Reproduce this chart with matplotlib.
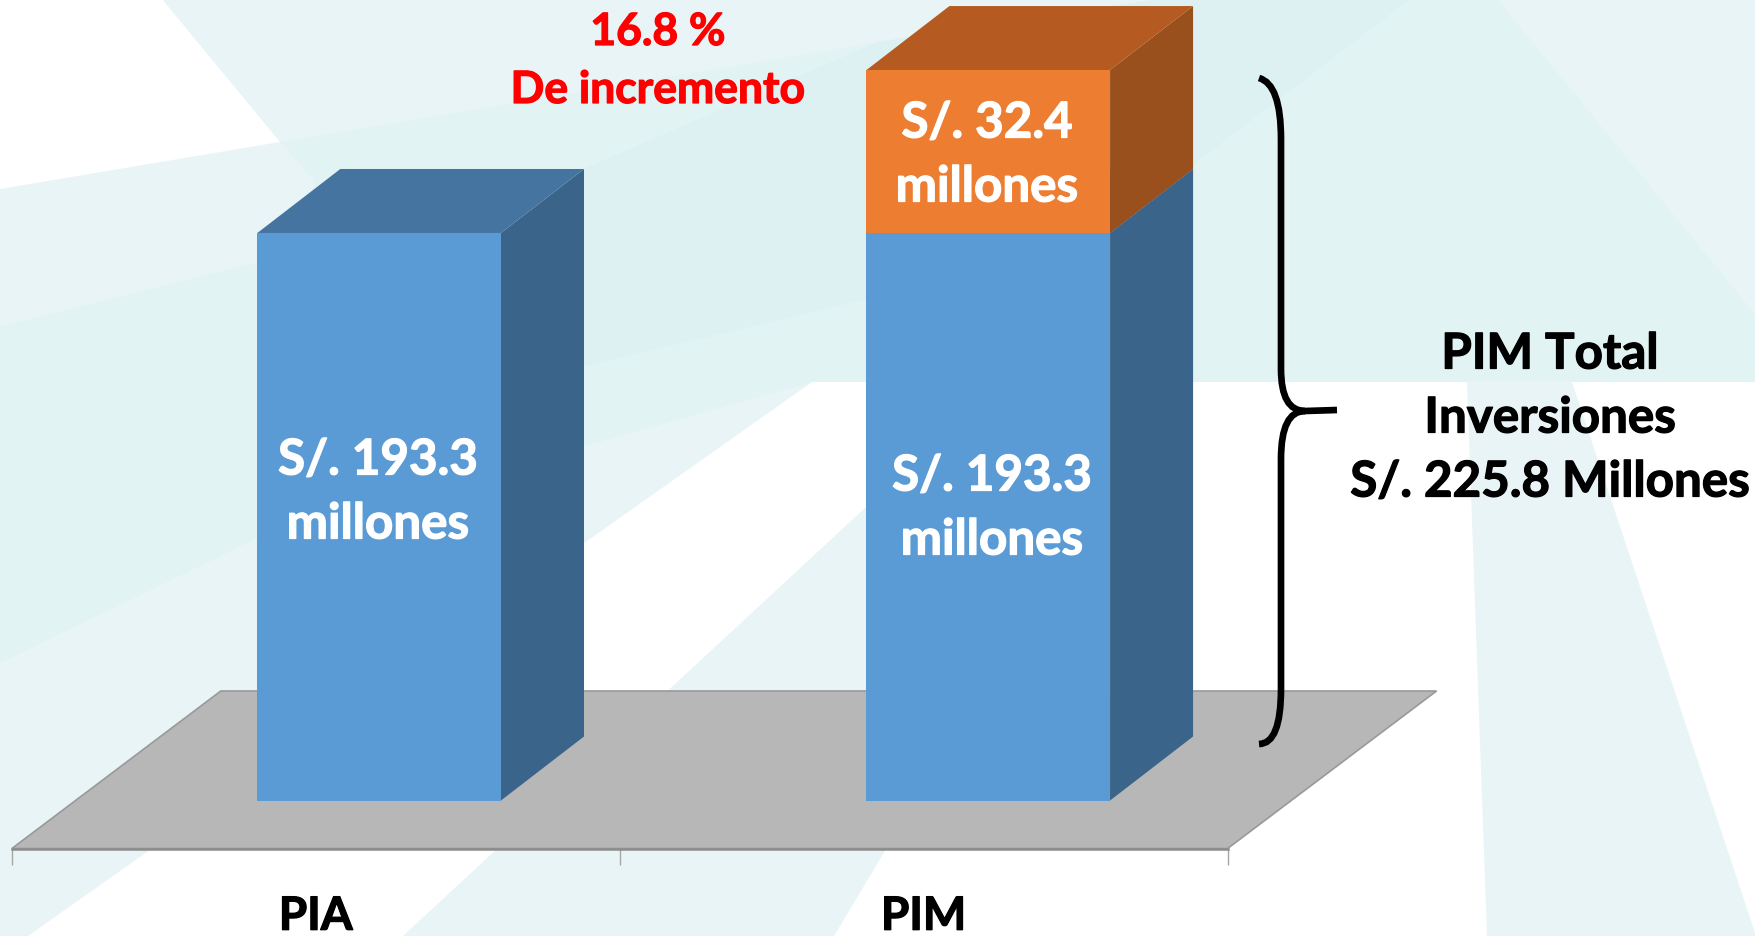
import matplotlib
matplotlib.use("Agg")
import matplotlib.pyplot as plt
import matplotlib.patheffects as pe
from matplotlib.patches import PathPatch, Polygon
from matplotlib.path import Path

plt.rcParams["font.family"] = ["Lato", "DejaVu Sans"]
plt.rcParams["font.weight"] = "bold"

W, H = 1756, 937

categories = ["PIA", "PIM"]
base_values = [193.3, 193.3]
# the picture does not draw the increase to scale: 32.4 is labelled, this is the height shown
increase_heights = [0, 55.5]
bar_labels = ["S/. 193.3\nmillones", "S/. 193.3\nmillones"]
increase_label = "S/. 32.4\nmillones"
note_lines = ["16.8 %", "De incremento"]
total_lines = ["PIM Total", "Inversiones", "S/. 225.8 Millones"]
tick_edges = [-0.603, 0.395, 1.393]

BLUE = ("#5B9BD5", "#3A6489", "#4674A1")
ORANGE = ("#ED7D31", "#9A501C", "#B55A20")
DX, DY = 0.1363, 21.8
WIDTH = 0.4


def canvas(zorder):
    a = fig.add_axes([0, 0, 1, 1], zorder=zorder)
    a.set_xlim(0, W)
    a.set_ylim(H, 0)
    a.axis("off")
    return a


def box(x, bottom, height, colors):
    ax.bar(x, height, WIDTH, bottom=bottom, color=colors[0], zorder=3)
    left, right = x - WIDTH / 2, x + WIDTH / 2
    top = bottom + height
    ax.fill([right, right + DX, right + DX, right],
            [bottom, bottom + DY, top + DY, top], color=colors[1], lw=0, zorder=2)
    ax.fill([left, left + DX, right + DX, right],
            [top, top + DY, top + DY, top], color=colors[2], lw=0, zorder=2)


def bold_text(x, y, line, color, size):
    t = top.text(x, y, line, color=color, fontsize=size, ha="center", va="center")
    t.set_path_effects([pe.withStroke(linewidth=0.9, foreground=color)])


fig = plt.figure(figsize=(W / 100, H / 100), dpi=100, facecolor="white")

# background rays
bg = canvas(0)
bg.add_patch(Polygon([(162, 0), (W, 0), (W, 383), (812, 383), (28, H), (0, H), (0, 190), (280, 143)],
                     color="#E8F4F6", lw=0))
bg.add_patch(Polygon([(403, H), (878, 497), (1000, 383), (1060, 383), (886, 850), (834, H)],
                     color="#E8F4F6", lw=0))
bg.add_patch(Polygon([(1467, 383), (1572, 383), (W, H), (1487, H)], color="#E8F4F6", lw=0))
bg.add_patch(Polygon([(313, 180), (280, 143), (878, 43), (1160, 0), (1497, 0), (W, 317), (W, 383),
                      (812, 383), (257, 539), (0, 664), (0, 328), (313, 250)],
                     color="#E1F3F2", lw=0))
bg.add_patch(Polygon([(584, 170), (878, 43), (1160, 0), (1410, 0), (1191, 167), (1191, 383),
                      (1100, 383), (867, 300), (584, 367)],
                     color="#DDF1F3", lw=0))

# chart
ax = fig.add_axes([0, 0, 1, 1], zorder=1)
ax.patch.set_visible(False)
ax.set_xlim(-0.6225, 2.2605)
ax.set_ylim(-46.15, 273)
ax.fill([tick_edges[0], tick_edges[0] + 0.343, tick_edges[2] + 0.343, tick_edges[2]],
        [-16.35, 37.3, 37.3, -16.35], facecolor="#B7B7B7", edgecolor="#999999", lw=1.2, zorder=1)

for i in range(len(categories)):
    box(i, 0, base_values[i], BLUE)
    if increase_heights[i] > 0:
        box(i, base_values[i], increase_heights[i], ORANGE)

for s in ["top", "left", "right"]:
    ax.spines[s].set_visible(False)
ax.spines["bottom"].set_position(("data", -16.35))
ax.spines["bottom"].set_bounds(tick_edges[0], tick_edges[2])
ax.spines["bottom"].set_color("#8C8C8C")
ax.spines["bottom"].set_linewidth(1.8)
ax.set_yticks([])
ax.set_xticks(tick_edges)
ax.set_xticklabels([])
ax.tick_params(axis="x", which="major", length=11.5, width=1, color="#A6A6A6")
ax.set_xticks([(tick_edges[i] + tick_edges[i + 1]) / 2 for i in range(2)], minor=True)
ax.set_xticklabels(categories, minor=True, fontsize=33, fontweight="bold", color="black")
ax.tick_params(axis="x", which="minor", length=0, pad=34)
for label in ax.get_xticklabels(minor=True):
    label.set_path_effects([pe.withStroke(linewidth=0.9, foreground="black")])

# brace and text
top = canvas(2)
brace = Path(
    [(1259, 79), (1281, 85), (1281, 140), (1281, 370), (1281, 412), (1305, 412), (1337, 411),
     (1305, 412), (1281, 412), (1281, 460), (1281, 690), (1281, 745), (1259, 745)],
    [Path.MOVETO, Path.CURVE3, Path.CURVE3, Path.LINETO, Path.CURVE3, Path.CURVE3, Path.LINETO,
     Path.MOVETO, Path.CURVE3, Path.CURVE3, Path.LINETO, Path.CURVE3, Path.CURVE3])
top.add_patch(PathPatch(brace, facecolor="none", edgecolor="black", lw=4.8))

for (x, y), line in zip([(658, 33), (658, 91)], note_lines):
    bold_text(x, y, line, "#FF0000", 32)
for (x, y), line in zip([(1550, 355), (1550, 419), (1550, 483)], total_lines):
    bold_text(x, y, line, "black", 35.5)


def two_lines(x, y, label):
    for k, line in enumerate(label.split("\n")):
        bold_text(x, y + 64 * k, line, "white", 35.5)


two_lines(378, 461, bar_labels[0])
two_lines(992, 477, bar_labels[1])
two_lines(987, 124, increase_label)

fig.savefig("out.png", dpi=100)
